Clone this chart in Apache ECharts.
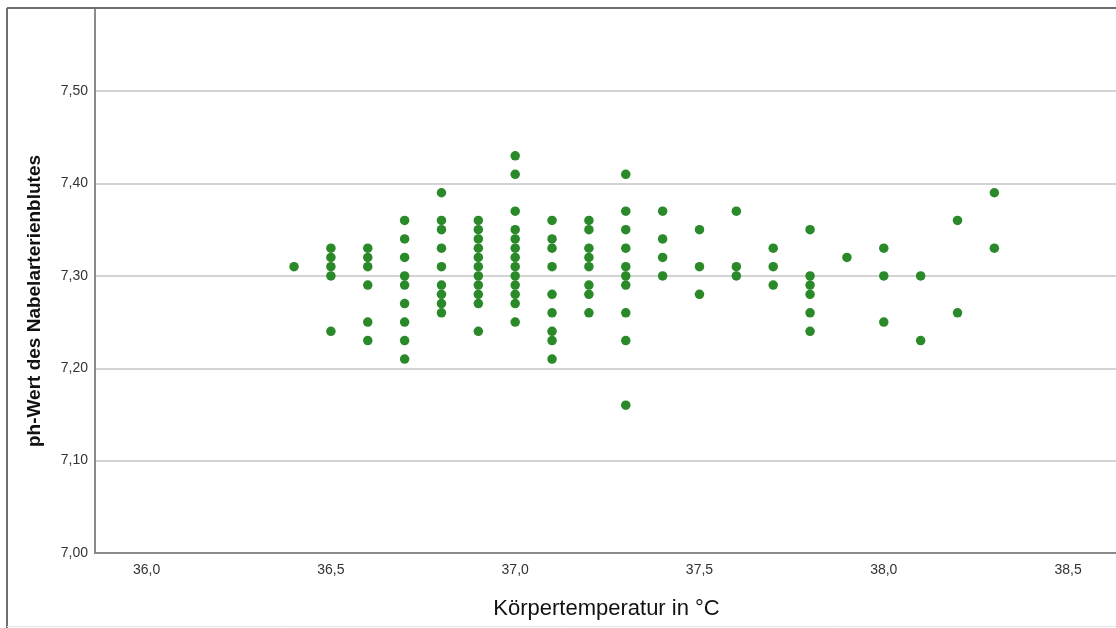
<!DOCTYPE html>
<html>
<head>
<meta charset="utf-8">
<script src="https://cdn.jsdelivr.net/npm/echarts@6/dist/echarts.min.js"></script>
<style>html,body{margin:0;padding:0;background:#fff}#c{width:1116px;height:628px}</style>
</head>
<body>
<div id="c"></div>
<script>
// temperature columns (°C) and the pH values observed at each
const temperatures = [36.4, 36.5, 36.6, 36.7, 36.8, 36.9, 37.0, 37.1, 37.2, 37.3, 37.4, 37.5, 37.6, 37.7, 37.8, 37.9, 38.0, 38.1, 38.2, 38.3];
const phValues = [
  [7.31],
  [7.33, 7.32, 7.31, 7.30, 7.24],
  [7.33, 7.32, 7.31, 7.29, 7.25, 7.23],
  [7.36, 7.34, 7.32, 7.30, 7.29, 7.27, 7.25, 7.23, 7.21],
  [7.39, 7.36, 7.35, 7.33, 7.31, 7.29, 7.28, 7.27, 7.26],
  [7.36, 7.35, 7.34, 7.33, 7.32, 7.31, 7.30, 7.29, 7.28, 7.27, 7.24],
  [7.43, 7.41, 7.37, 7.35, 7.34, 7.33, 7.32, 7.31, 7.30, 7.29, 7.28, 7.27, 7.25],
  [7.36, 7.34, 7.33, 7.31, 7.28, 7.26, 7.24, 7.23, 7.21],
  [7.36, 7.35, 7.33, 7.32, 7.31, 7.29, 7.28, 7.26],
  [7.41, 7.37, 7.35, 7.33, 7.31, 7.30, 7.29, 7.26, 7.23, 7.16],
  [7.37, 7.34, 7.32, 7.30],
  [7.35, 7.31, 7.28],
  [7.37, 7.31, 7.30],
  [7.33, 7.31, 7.29],
  [7.35, 7.30, 7.29, 7.28, 7.26, 7.24],
  [7.32],
  [7.33, 7.30, 7.25],
  [7.30, 7.23],
  [7.36, 7.26],
  [7.39, 7.33]
];
const xTicks = [36.0, 36.5, 37.0, 37.5, 38.0, 38.5];
const yTicks = [7.0, 7.1, 7.2, 7.3, 7.4, 7.5];
const xTitle = 'Körpertemperatur in °C';
const yTitle = 'ph-Wert des Nabelarterienblutes';

const points = [];
temperatures.forEach((t, i) => phValues[i].forEach(v => points.push([t, v])));

const fmt = (v, d) => v.toFixed(d).replace('.', ',');
const chart = echarts.init(document.getElementById('c'), null, {renderer: 'canvas'});
chart.setOption({
  animation: false,
  backgroundColor: '#fff',
  textStyle: {fontFamily: 'Liberation Sans, Arial, sans-serif'},
  grid: {left: 95, right: 0, top: 8, bottom: 75},
  xAxis: {
    type: 'value', min: 35.86, max: 38.63,
    axisLine: {show: true, onZero: false, lineStyle: {color: '#8a8a8a', width: 2}},
    axisTick: {show: false},
    splitLine: {show: false},
    axisLabel: {customValues: xTicks, formatter: v => fmt(v, 1), color: '#333', fontSize: 14, margin: 10,
      fontFamily: 'Liberation Sans, Arial, sans-serif'}
  },
  yAxis: {
    type: 'value', min: 7.0, max: 7.59, interval: 0.1,
    axisLine: {show: true, onZero: false, lineStyle: {color: '#8a8a8a', width: 2}},
    axisTick: {show: false},
    splitLine: {show: true, lineStyle: {color: '#c4c4c4', width: 1.5}},
    axisLabel: {
      formatter: v => yTicks.some(t => Math.abs(t - v) < 1e-6) ? fmt(v, 2) : '',
      color: '#333', fontSize: 14, margin: 7, padding: [6, 0, 0, 0],
      fontFamily: 'Liberation Sans, Arial, sans-serif'
    }
  },
  series: [{
    type: 'scatter', data: points, symbolSize: 9.5,
    itemStyle: {color: '#2a8a2a', opacity: 1}
  }],
  graphic: [
    {type: 'line', shape: {x1: 7, y1: 8, x2: 1116, y2: 8}, style: {stroke: '#6e6e6e', lineWidth: 2}, z: 100},
    {type: 'line', shape: {x1: 7, y1: 8, x2: 7, y2: 628}, style: {stroke: '#6e6e6e', lineWidth: 2}, z: 100},
    {type: 'line', shape: {x1: 7, y1: 626.5, x2: 1116, y2: 626.5}, style: {stroke: '#e6e6e6', lineWidth: 1}, z: 100},
    {type: 'text', x: 606.5, y: 609, style: {text: xTitle, fill: '#111', font: '22px "Liberation Sans", Arial, sans-serif', textAlign: 'center', textVerticalAlign: 'middle'}},
    {type: 'text', x: 35, y: 301, rotation: Math.PI / 2, style: {text: yTitle, fill: '#111', font: 'bold 19px "Liberation Sans", Arial, sans-serif', textAlign: 'center', textVerticalAlign: 'middle'}}
  ]
});
</script>
</body>
</html>
